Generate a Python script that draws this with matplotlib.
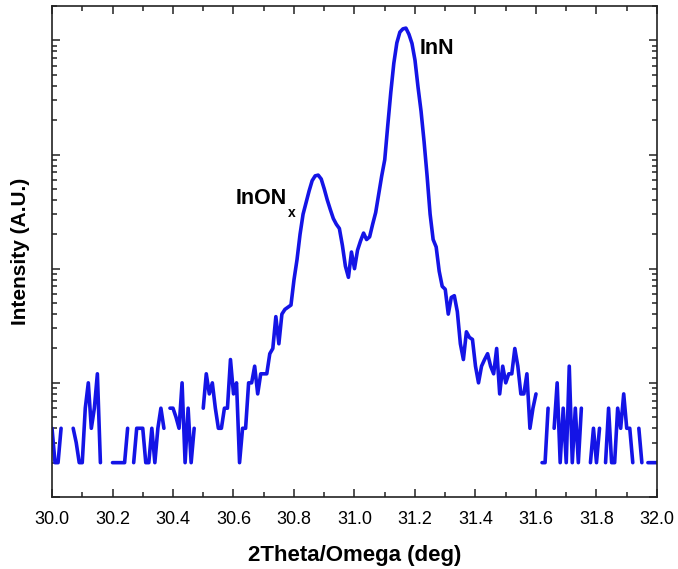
import numpy as np
import matplotlib
matplotlib.use("Agg")
import matplotlib.pyplot as plt
from matplotlib.ticker import MultipleLocator, LogLocator, NullFormatter

plt.rcParams['font.family'] = ['Liberation Sans', 'DejaVu Sans']

# 2Theta/Omega scan, 0.01 deg step from 30.00 to 32.00 deg
two_theta_start = 30.0
two_theta_step = 0.01

# Detector intensity (counts); 0 means no counts recorded
intensity = [
    4, 2, 2, 4, 0, 0, 0, 4, 3, 2,                 # 30.00
    2, 6, 10, 4, 6, 12, 2, 0, 0, 0,               # 30.10
    2, 2, 2, 2, 2, 4, 0, 2, 4, 4,                 # 30.20
    4, 2, 2, 4, 2, 4, 6, 4, 0, 6,                 # 30.30
    6, 5, 4, 10, 2, 6, 2, 4, 0, 0,                # 30.40
    6, 12, 8, 10, 6, 4, 4, 6, 6, 16,              # 30.50
    8, 10, 2, 4, 4, 10, 10, 14, 8, 12,            # 30.60
    12, 12, 18, 20, 38, 22, 40, 44, 46, 48,       # 30.70
    80, 120, 200, 300, 380, 480, 590, 650, 660, 610,   # 30.80
    500, 400, 330, 275, 245, 225, 160, 105, 84, 140,   # 30.90
    100, 145, 175, 205, 180, 190, 245, 310, 450, 650,  # 31.00
    900, 1800, 3500, 6300, 9500, 11800, 12600, 12800, 11300, 9400,  # 31.10
    6700, 3900, 2400, 1300, 650, 300, 180, 155, 95, 70,  # 31.20
    66, 40, 56, 58, 42, 22, 16, 28, 25, 24,       # 31.30
    14, 10, 14, 16, 18, 14, 12, 20, 8, 14,        # 31.40
    10, 12, 12, 20, 14, 8, 8, 12, 4, 6,           # 31.50
    8, 0, 2, 2, 6, 0, 4, 10, 2, 6,                # 31.60
    2, 14, 2, 6, 2, 6, 0, 0, 2, 4,                # 31.70
    2, 4, 0, 2, 6, 2, 2, 6, 4, 8,                 # 31.80
    4, 4, 2, 0, 4, 2, 0, 2, 2, 2,                 # 31.90
    2,                                            # 32.00
]

x_ticks = [30.0, 30.2, 30.4, 30.6, 30.8, 31.0, 31.2, 31.4, 31.6, 31.8, 32.0]
peak_labels = ["InN", "InON"]

two_theta = two_theta_start + two_theta_step * np.arange(len(intensity))
counts = np.array(intensity, dtype=float)

fig = plt.figure(figsize=(6.78, 5.69), dpi=100)
ax = fig.add_axes([0.0767, 0.1265, 0.8923, 0.863])

ax.plot(two_theta, counts, color='#1414e6', lw=2.6, solid_joinstyle='round',
        solid_capstyle='round')
ax.set_yscale('log', nonpositive='mask')
ax.set_ylim(1, 2e4)
ax.set_xlim(30.0, 32.0)

ax.set_xticks(x_ticks)
ax.set_xticklabels([f"{t:.1f}" for t in x_ticks])
ax.xaxis.set_minor_locator(MultipleLocator(0.1))
ax.yaxis.set_major_locator(LogLocator(base=10, numticks=10))
ax.yaxis.set_minor_locator(LogLocator(base=10, subs=np.arange(2, 10), numticks=20))
ax.yaxis.set_major_formatter(NullFormatter())
ax.yaxis.set_minor_formatter(NullFormatter())

ax.tick_params(which='both', direction='in', top=True, right=True,
               color='#222222', width=1.1)
ax.tick_params(which='major', length=6, labelsize=13, pad=10)
ax.tick_params(which='minor', length=3.5)
for s in ax.spines.values():
    s.set_linewidth(1.2)
    s.set_color('#222222')

ax.set_xlabel("2Theta/Omega (deg)", fontsize=16, fontweight='bold', labelpad=12)
ax.set_ylabel("Intensity (A.U.)", fontsize=15, fontweight='bold', labelpad=6)

ax.text(31.215, 8500, peak_labels[0], fontsize=15.5, fontweight='bold',
        ha='left', va='center')
ax.text(30.775, 413, peak_labels[1], fontsize=15.5, fontweight='bold',
        ha='right', va='center')
ax.text(30.78, 310, "x", fontsize=10, fontweight='bold', ha='left', va='center')

fig.savefig("out.png", dpi=100)
